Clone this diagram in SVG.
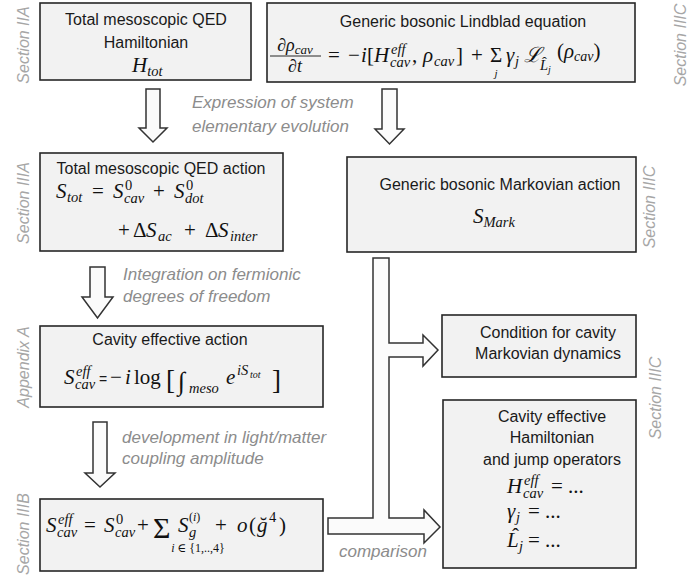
<svg xmlns="http://www.w3.org/2000/svg" width="688" height="579" viewBox="0 0 688 579">
<style>
.bg{fill:#ffffff}
.box{fill:#f2f2f2;stroke:#262626;stroke-width:1.6}
.arr{fill:#fbfbfb;stroke:#333333;stroke-width:1.5;stroke-linejoin:miter}
.lbl{font-family:"Liberation Sans",Arial,sans-serif;font-size:16px;fill:#1a1a1a}
.note{font-family:"Liberation Sans",Arial,sans-serif;font-style:italic;font-size:17px;fill:#8c8c8c}
.sec{font-family:"Liberation Sans",Arial,sans-serif;font-style:italic;font-size:16px;fill:#a6a6a6}
.m{font-family:"Liberation Serif","DejaVu Serif",serif;font-style:italic;font-size:21px;fill:#111111}
.s{font-size:14.5px}
.ss{font-size:10px}
.u{font-style:normal}
</style>
<rect class="bg" x="0" y="0" width="688" height="579"/>

<g id="connectors">
  <path class="arr" d="M146,89 H160 V128 H167 L153,142 L139,128 H146 Z"/>
  <path class="arr" d="M382,89 H397 V129 H404 L389.5,144 L375,129 H382 Z"/>
  <path class="arr" d="M90,267 H105 V297 H113 L97.5,318 L82,297 H90 Z"/>
  <path class="arr" d="M93,422 H107 V473 H115 L100,487 L85,473 H93 Z"/>
  <path class="arr" d="M373,258 H389 V343 H423 V335 L438,350 L423,366 V357 H389 V518 H424 V510 L440,527 L424,543 V534 H328 V518 H373 Z"/>
</g>

<g id="notes">
  <text class="note" x="192" y="108">Expression of system</text>
  <text class="note" x="192" y="132">elementary evolution</text>
  <text class="note" x="123" y="280">Integration on fermionic</text>
  <text class="note" x="123" y="302">degrees of freedom</text>
  <text class="note" x="122" y="443">development in light/matter</text>
  <text class="note" x="122" y="464">coupling amplitude</text>
  <text class="note" x="339" y="557">comparison</text>
</g>

<g id="sections">
  <text class="sec" text-anchor="middle" transform="translate(29,45) rotate(-90)">Section IIA</text>
  <text class="sec" text-anchor="middle" transform="translate(29,203) rotate(-90)">Section IIIA</text>
  <text class="sec" text-anchor="middle" transform="translate(29,367) rotate(-90)">Appendix A</text>
  <text class="sec" text-anchor="middle" transform="translate(29,534) rotate(-90)">Section IIIB</text>
  <text class="sec" text-anchor="middle" transform="translate(686,45) rotate(-90)">Section IIIC</text>
  <text class="sec" text-anchor="middle" transform="translate(655,207) rotate(-90)">Section IIIC</text>
  <text class="sec" text-anchor="middle" transform="translate(661,398) rotate(-90)">Section IIIC</text>
</g>

<g id="n-hamiltonian">
  <rect class="box" x="40" y="3" width="211" height="77"/>
  <text class="lbl" x="146" y="25" text-anchor="middle">Total mesoscopic QED</text>
  <text class="lbl" x="146" y="48" text-anchor="middle">Hamiltonian</text>
  <text class="m" x="132" y="72">H<tspan class="s" dy="4">tot</tspan></text>
</g>

<g id="n-lindblad">
  <rect class="box" x="267" y="3" width="368" height="79"/>
  <text class="lbl" x="463" y="27" text-anchor="middle">Generic bosonic Lindblad equation</text>
  <text class="m" x="295" y="51" text-anchor="middle" style="font-size:18px">∂ρ<tspan style="font-size:13px" dy="3">cav</tspan></text>
  <line x1="270" y1="56" x2="321" y2="56" stroke="#111111" stroke-width="0.9"/>
  <text class="m" x="295" y="72" text-anchor="middle" style="font-size:18px">∂t</text>
  <text class="m u" x="328" y="62">=</text>
  <text class="m u" x="348" y="62">−</text>
  <text class="m" x="361" y="62">i</text>
  <text class="m u" x="367" y="62">[</text>
  <text class="m" x="374" y="62">H</text>
  <text class="m s" x="391" y="54">eff</text>
  <text class="m s" x="390" y="67">cav</text>
  <text class="m u" x="412" y="62">,</text>
  <text class="m" x="423" y="62">ρ</text>
  <text class="m s" x="434" y="66">cav</text>
  <text class="m u" x="456" y="62">]</text>
  <text class="m u" x="471" y="62">+</text>
  <text class="m u" x="490" y="62">Σ</text>
  <text class="m" x="496" y="77" text-anchor="middle" style="font-size:11px">j</text>
  <text class="m" x="506" y="62">γ</text>
  <text class="m s" x="515" y="66">j</text>
  <text class="m" x="524" y="62">ℒ</text>
  <text class="m s" x="540" y="70">L</text>
  <text class="m s u" x="542" y="67">ˆ</text>
  <text class="m" x="548" y="73" style="font-size:10px">j</text>
  <text class="m" x="557" y="58" style="font-size:21px"><tspan class="u">(</tspan>ρ<tspan style="font-size:14px" dy="3">cav</tspan><tspan class="u" dy="-3">)</tspan></text>
</g>

<g id="n-action">
  <rect class="box" x="40" y="153" width="243" height="98"/>
  <text class="lbl" x="161" y="174" text-anchor="middle">Total mesoscopic QED action</text>
  <text class="m" x="56" y="198">S</text>
  <text class="m s" x="67" y="202">tot</text>
  <text class="m u" x="92" y="198">=</text>
  <text class="m" x="113" y="198">S</text>
  <text class="m s u" x="125" y="190">0</text>
  <text class="m s" x="124" y="203">cav</text>
  <text class="m u" x="153" y="198">+</text>
  <text class="m" x="174" y="198">S</text>
  <text class="m s u" x="186" y="190">0</text>
  <text class="m s" x="185" y="203">dot</text>
  <text class="m u" x="118" y="237">+</text>
  <text class="m u" x="133" y="237">Δ</text>
  <text class="m" x="146" y="237">S</text>
  <text class="m s" x="158" y="241">ac</text>
  <text class="m u" x="184" y="237">+</text>
  <text class="m u" x="205" y="237">Δ</text>
  <text class="m" x="218" y="237">S</text>
  <text class="m s" x="230" y="241">inter</text>
</g>

<g id="n-markov">
  <rect class="box" x="347" y="157" width="289" height="95"/>
  <text class="lbl" x="500" y="190" text-anchor="middle">Generic bosonic Markovian action</text>
  <text class="m" x="473" y="223">S<tspan class="s" dy="4">Mark</tspan></text>
</g>

<g id="n-cavity-action">
  <rect class="box" x="40" y="326" width="283" height="81"/>
  <text class="lbl" x="170" y="345" text-anchor="middle">Cavity effective action</text>
  <text class="m" x="64" y="384">S</text>
  <text class="m s" x="76" y="376">eff</text>
  <text class="m s" x="75" y="389">cav</text>
  <text class="lbl" x="99" y="384" style="font-size:14px">=</text>
  <text class="m u" x="110" y="384">−</text>
  <text class="m" x="125" y="384">i</text>
  <text class="m u" x="134" y="384">log</text>
  <text class="m u" x="166" y="389" style="font-size:27px">[</text>
  <text class="m u" x="178" y="390" style="font-size:26px">∫</text>
  <text class="m s" x="189" y="393">meso</text>
  <text class="m" x="226" y="384">e</text>
  <text class="m s" x="237" y="375">iS</text>
  <text class="m ss" x="250" y="378">tot</text>
  <text class="m u" x="272" y="389" style="font-size:27px">]</text>
</g>

<g id="n-expansion">
  <rect class="box" x="40" y="499" width="283" height="72"/>
  <text class="m" x="46" y="532">S</text>
  <text class="m s" x="58" y="524">eff</text>
  <text class="m s" x="57" y="537">cav</text>
  <text class="m u" x="84" y="532">=</text>
  <text class="m" x="104" y="532">S</text>
  <text class="m s u" x="116" y="524">0</text>
  <text class="m s" x="115" y="537">cav</text>
  <text class="m u" x="137" y="532">+</text>
  <text class="m u" x="153" y="538" style="font-size:30px">Σ</text>
  <text class="m" x="178" y="532">S</text>
  <text class="m u" x="189" y="521" style="font-size:12px">(<tspan font-style="italic">i</tspan>)</text>
  <text class="m s" x="189" y="537">g</text>
  <text class="m u" x="215" y="532">+</text>
  <text class="m" x="237" y="532">o</text>
  <text class="m u" x="249" y="532">(</text>
  <text class="m" x="257" y="532">g</text>
  <text class="m u" x="260" y="532">˘</text>
  <text class="m s u" x="269" y="522">4</text>
  <text class="m u" x="279" y="532">)</text>
  <text class="m" x="198" y="552" text-anchor="middle" style="font-size:12px">i<tspan class="u"> ∈ {1,..,4}</tspan></text>
</g>

<g id="n-condition">
  <rect class="box" x="442" y="315" width="194" height="62"/>
  <text class="lbl" x="548" y="338" text-anchor="middle">Condition for cavity</text>
  <text class="lbl" x="548" y="359" text-anchor="middle">Markovian dynamics</text>
</g>

<g id="n-hamiltonian-eff">
  <rect class="box" x="443" y="400" width="193" height="168"/>
  <text class="lbl" x="552" y="422" text-anchor="middle">Cavity effective</text>
  <text class="lbl" x="552" y="443" text-anchor="middle">Hamiltonian</text>
  <text class="lbl" x="552" y="465" text-anchor="middle">and jump operators</text>
  <text class="m" x="507" y="493">H</text>
  <text class="m s" x="524" y="485">eff</text>
  <text class="m s" x="523" y="498">cav</text>
  <text class="m u" x="551" y="493">= ...</text>
  <text class="m" x="507" y="518">γ</text>
  <text class="m s" x="516" y="522">j</text>
  <text class="m u" x="528" y="518">= ...</text>
  <text class="m" x="507" y="547">L</text>
  <text class="m u" x="512" y="543">ˆ</text>
  <text class="m s" x="519" y="551">j</text>
  <text class="m u" x="528" y="547">= ...</text>
</g>
</svg>
